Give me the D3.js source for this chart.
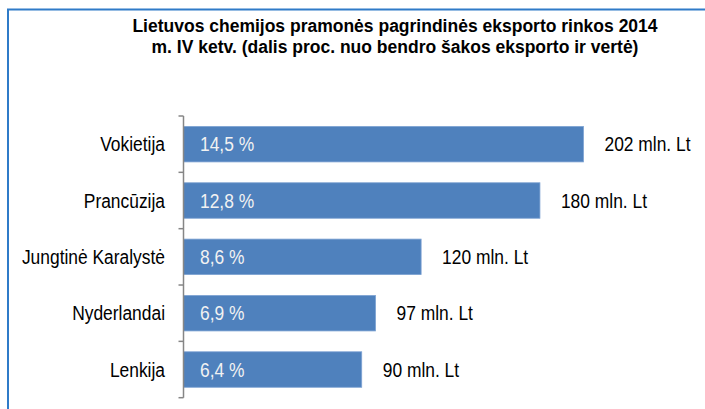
<!DOCTYPE html>
<html>
<head>
<meta charset="utf-8">
<script src="https://cdn.jsdelivr.net/npm/d3@7"></script>
<style>
  body { margin: 0; background: #ffffff; }
  svg { display: block; }
  text { font-family: "Liberation Sans", Arial, sans-serif; }
</style>
</head>
<body>
<svg id="chart" width="705" height="409"></svg>
<script>
// data
const countries = ['Vokietija', 'Prancūzija', 'Jungtinė Karalystė', 'Nyderlandai', 'Lenkija'];
const values = [202, 180, 120, 97, 90];          // mln. Lt
const shares = ['14,5 %', '12,8 %', '8,6 %', '6,9 %', '6,4 %'];
const titleLines = [
  'Lietuvos chemijos pramonės pagrindinės eksporto rinkos 2014',
  'm. IV ketv. (dalis proc. nuo bendro šakos eksporto ir vertė)'
];

// no narrow font installed, so squeeze the regular one horizontally
const narrow = 0.87;
const labelSize = '20px';

const svg = d3.select('#chart');

// frame (only top and left edges are in the picture)
svg.append('line')
  .attr('x1', 7).attr('x2', 705).attr('y1', 9.5).attr('y2', 9.5)
  .attr('stroke', '#2f7bc8').attr('stroke-width', 2);
svg.append('line')
  .attr('x1', 8).attr('x2', 8).attr('y1', 9).attr('y2', 409)
  .attr('stroke', '#2f7bc8').attr('stroke-width', 2);

// title
svg.append('g').selectAll('text')
  .data(titleLines)
  .enter()
  .append('text')
  .attr('x', 395)
  .attr('y', (d, i) => 32 + i * 21)
  .attr('text-anchor', 'middle')
  .style('font-size', '17.5px')
  .style('font-weight', 'bold')
  .attr('fill', '#000')
  .text(d => d);

const axisX = 183.5;
const y = d3.scaleBand()
  .domain(countries)
  .range([116, 397.7])
  .paddingInner(0.37)
  .paddingOuter(0.185);

const x = d3.scaleLinear()
  .domain([0, d3.max(values)])
  .range([axisX, axisX + 400]);

const mid = d => y(d) + y.bandwidth() / 2;

// bars
const rows = svg.append('g').selectAll('g')
  .data(countries)
  .enter()
  .append('g');

rows.append('rect')
  .attr('x', axisX)
  .attr('y', d => y(d))
  .attr('width', (d, i) => x(values[i]) - axisX)
  .attr('height', y.bandwidth())
  .attr('fill', '#4f81bd')
  .attr('stroke', '#7ea3d3')
  .attr('stroke-width', 0.8);

// share labels inside bars
rows.append('text')
  .attr('transform', d => 'translate(' + (axisX + 16.5) + ',' + mid(d) + ') scale(' + narrow + ',1)')
  .attr('dy', '0.35em')
  .style('font-size', labelSize)
  .attr('fill', '#f2f2f2')
  .text((d, i) => shares[i]);

// value labels after bars
rows.append('text')
  .attr('transform', (d, i) => 'translate(' + (x(values[i]) + 21) + ',' + mid(d) + ') scale(' + narrow + ',1)')
  .attr('dy', '0.35em')
  .style('font-size', labelSize)
  .attr('fill', '#000')
  .text((d, i) => values[i] + ' mln. Lt');

// category axis, ticks sit between the categories
const step = y.step();
const tickYs = d3.range(countries.length + 1).map(i => y.range()[0] + i * step);
const axisG = svg.append('g');
axisG.append('line')
  .attr('x1', axisX).attr('x2', axisX)
  .attr('y1', tickYs[0]).attr('y2', tickYs[tickYs.length - 1])
  .attr('stroke', '#868686').attr('stroke-width', 1.5);
axisG.selectAll('line.tick')
  .data(tickYs)
  .enter()
  .append('line')
  .attr('class', 'tick')
  .attr('x1', axisX - 5).attr('x2', axisX)
  .attr('y1', d => d).attr('y2', d => d)
  .attr('stroke', '#868686').attr('stroke-width', 1.5);

axisG.selectAll('text')
  .data(countries)
  .enter()
  .append('text')
  .attr('transform', d => 'translate(165,' + mid(d) + ') scale(' + narrow + ',1)')
  .attr('dy', '0.35em')
  .attr('text-anchor', 'end')
  .style('font-size', labelSize)
  .attr('fill', '#000')
  .text(d => d);
</script>
</body>
</html>
